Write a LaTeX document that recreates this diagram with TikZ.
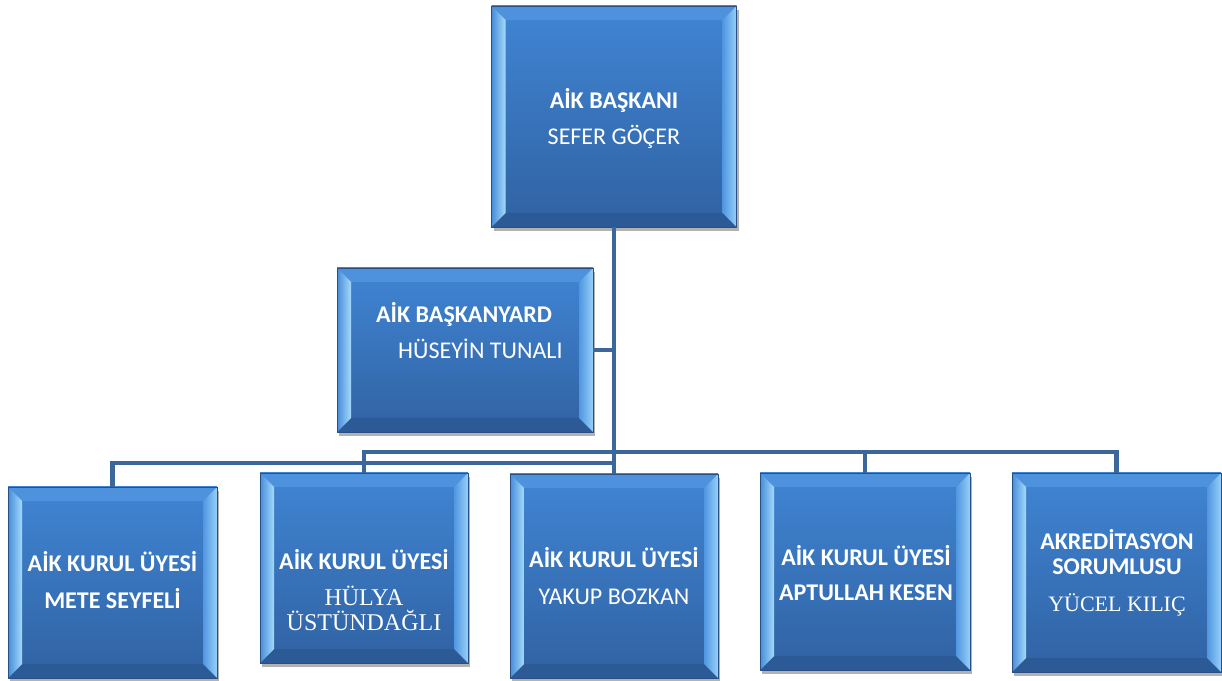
\documentclass[tikz,border=0pt]{standalone}
\usepackage{fontspec}
\setmainfont{Carlito}
\newfontfamily\tnr{Liberation Serif}
\usetikzlibrary{shadows,calc}
\definecolor{facetop}{RGB}{64,133,212}
\definecolor{facebot}{RGB}{48,98,162}
\definecolor{bevtop}{RGB}{78,146,222}
\definecolor{bevbot}{RGB}{44,90,150}
\definecolor{bevlout}{RGB}{70,140,218}
\definecolor{bevlin}{RGB}{165,218,250}
\definecolor{bevrin}{RGB}{80,150,225}
\definecolor{bevrout}{RGB}{150,208,248}
\definecolor{boxedge}{RGB}{40,80,132}
\definecolor{linkcol}{RGB}{60,103,154}
\newcommand\serifname{\tnr\fontsize{24}{25}\selectfont}
\tikzset{
  x=1pt, y=1pt,
  bevelbox/.style 2 args={rectangle, minimum width=#1, minimum height=#2,
    inner sep=0pt, draw=boxedge, line width=0.6pt,
    top color=facetop, bottom color=facebot,
    drop shadow={shadow xshift=2pt, shadow yshift=-4pt, opacity=0.3, fill=black},
    path picture={
      \coordinate (oNW) at (path picture bounding box.north west);
      \coordinate (oNE) at (path picture bounding box.north east);
      \coordinate (oSW) at (path picture bounding box.south west);
      \coordinate (oSE) at (path picture bounding box.south east);
      \coordinate (iNW) at ($(oNW)+(14,-14)$);
      \coordinate (iNE) at ($(oNE)+(-14,-14)$);
      \coordinate (iSW) at ($(oSW)+(14,14)$);
      \coordinate (iSE) at ($(oSE)+(-14,14)$);
      \fill[bevtop] (oNW) -- (oNE) -- (iNE) -- (iNW) -- cycle;
      \fill[bevbot] (oSW) -- (oSE) -- (iSE) -- (iSW) -- cycle;
      \shade[left color=bevlout, right color=bevlin] (oNW) -- (iNW) -- (iSW) -- (oSW) -- cycle;
      \shade[left color=bevrin, right color=bevrout] (oNE) -- (iNE) -- (iSE) -- (oSE) -- cycle;
    }},
  lbl/.style={text=white, inner sep=0pt, align=center, font=\fontsize{24}{25}\selectfont},
  link/.style={draw=linkcol, line width=4.5pt}
}
\begin{document}
\begin{tikzpicture}
\useasboundingbox (0,0) rectangle (1222,680);
% boxes
\node[bevelbox={245pt}{221pt}] (top) at (614,563.5) {};
\node[bevelbox={256pt}{164pt}] (mid) at (465,330) {};
\node[bevelbox={209pt}{191pt}] (mete) at (112.5,97.5) {};
\node[bevelbox={208pt}{190pt}] (hulya) at (364,112) {};
\node[bevelbox={208pt}{204pt}] (yakup) at (614,104) {};
\node[bevelbox={210pt}{197pt}] (aptullah) at (865,108.5) {};
\node[bevelbox={209pt}{199pt}] (akred) at (1116.5,107.5) {};
% texts
\node[lbl] (ttop) at (614,562) {{\bfseries AİK BAŞKANI}\\[11pt]SEFER GÖÇER};
\node[lbl, align=left, anchor=west] (tmid) at (376,349) {{\bfseries AİK BAŞKANYARD}\\[11pt]\hspace*{22pt}HÜSEYİN TUNALI};
\node[lbl] (tmete) at (112.5,99.5) {{\bfseries AİK KURUL ÜYESİ}\\[12pt]{\bfseries METE SEYFELİ}};
\node[lbl] (thulya) at (364,90) {{\bfseries AİK KURUL ÜYESİ}\\[11pt]{\serifname HÜLYA}\\{\serifname ÜSTÜNDAĞLI}};
\node[lbl] (tyakup) at (614,103.5) {{\bfseries AİK KURUL ÜYESİ}\\[12pt]YAKUP BOZKAN};
\node[lbl] (taptullah) at (866,106.5) {{\bfseries AİK KURUL ÜYESİ}\\[10pt]{\bfseries APTULLAH KESEN}};
\node[lbl] (takred) at (1117,107) {{\bfseries AKREDİTASYON}\\{\bfseries SORUMLUSU}\\[12pt]{\tnr\fontsize{22}{25}\selectfont YÜCEL KILIÇ}};
% connectors
\coordinate (busR) at (614,228);
\coordinate (busL) at (614,217);
\draw[link] (top.south) -- (yakup.north);
\draw[link] (mid.east) -- (mid.east -| top.south);
\draw[link] (hulya.north) -- (hulya.north |- busR) -- (akred.north |- busR) -- (akred.north);
\draw[link] (aptullah.north) -- (aptullah.north |- busR);
\draw[link] (mete.north) -- (mete.north |- busL) -- (busL);
\end{tikzpicture}
\end{document}
